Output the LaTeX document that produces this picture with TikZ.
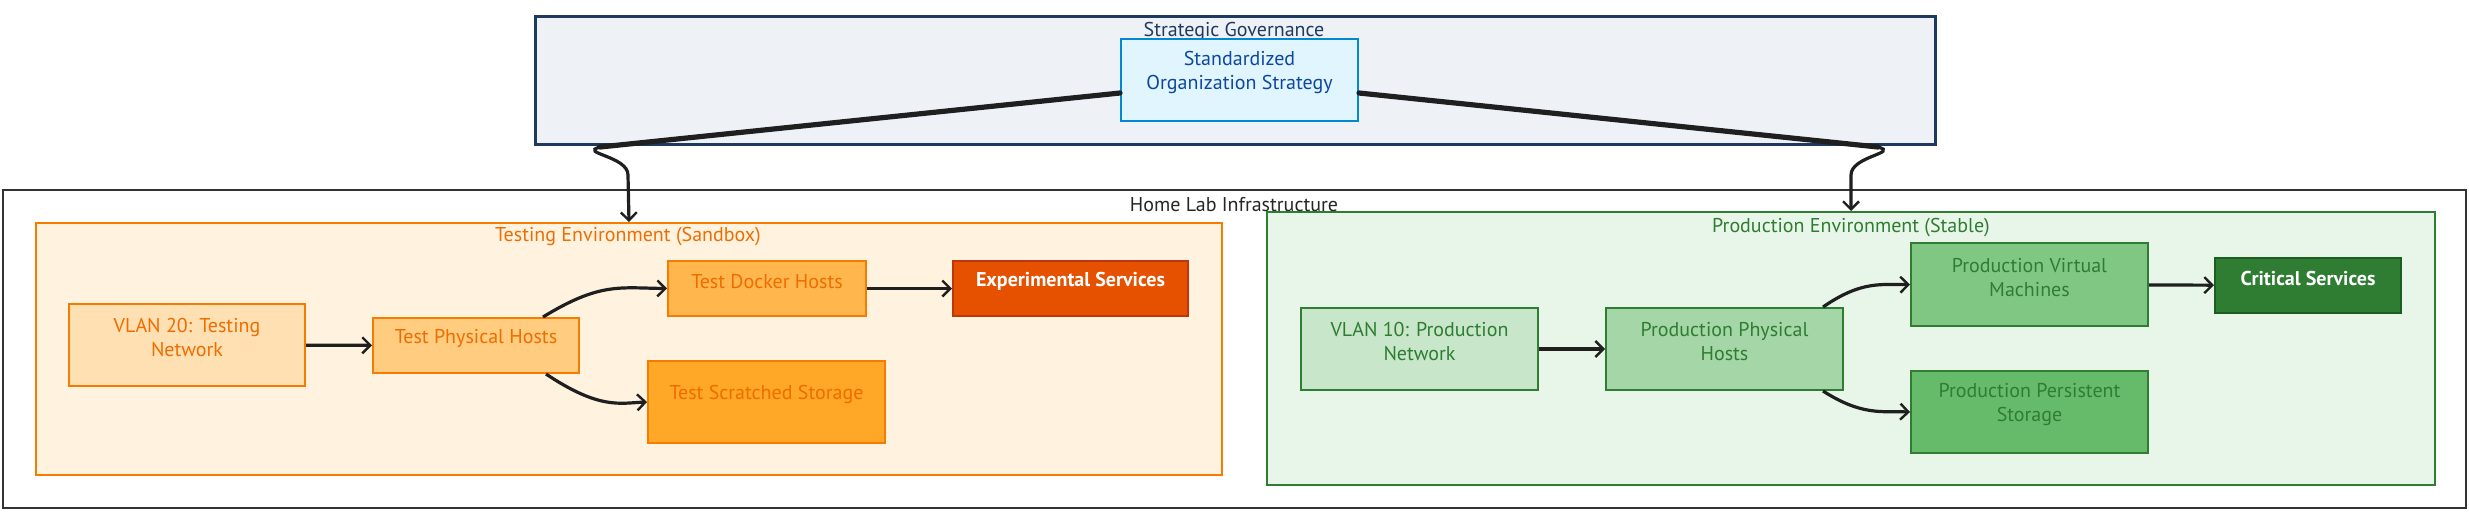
\documentclass[tikz,border=0pt]{standalone}
\usepackage{fontspec}
\setmainfont{PT Sans}
\usetikzlibrary{arrows.meta,fit}
\definecolor{navy}{HTML}{1E3A5F}
\definecolor{govfill}{HTML}{EEF2F7}
\definecolor{stdfill}{HTML}{E1F5FE}
\definecolor{stddraw}{HTML}{0288D1}
\definecolor{stdtext}{HTML}{0D47A1}
\definecolor{orgdraw}{HTML}{F57C00}
\definecolor{orgtext}{HTML}{EF6C00}
\definecolor{envOfill}{HTML}{FFF3E0}
\definecolor{o1}{HTML}{FFE0B2}
\definecolor{o2}{HTML}{FFCC80}
\definecolor{o3}{HTML}{FFB74D}
\definecolor{o4}{HTML}{FFA726}
\definecolor{o5}{HTML}{E65100}
\definecolor{o5d}{HTML}{BF360C}
\definecolor{grndraw}{HTML}{2E7D32}
\definecolor{envGfill}{HTML}{E8F5E9}
\definecolor{g1}{HTML}{C8E6C9}
\definecolor{g2}{HTML}{A5D6A7}
\definecolor{g3}{HTML}{81C784}
\definecolor{g4}{HTML}{66BB6A}
\definecolor{g5}{HTML}{2E7D32}
\definecolor{g5d}{HTML}{1B5E20}
\begin{document}
\begin{tikzpicture}[x=0.5pt,y=-0.5pt,
  box/.style={draw, line width=1pt, inner sep=0pt, align=center, font=\fontsize{10}{12}\selectfont},
  lbl/.style={inner sep=1pt, font=\fontsize{10}{12}\selectfont},
  obox/.style={box, draw=orgdraw, text=orgtext},
  gbox/.style={box, draw=grndraw, text=grndraw},
  conn/.style={draw=black!88, line width=1.6pt, -{Straight Barb[length=4pt,width=8pt,line width=1.2pt]}},
  heavy/.style={draw=black!88, line width=2.6pt, line cap=round}
]
\useasboundingbox (0,0) rectangle (2469,511);
% outer containers
\node[box, draw=black!80, fill=white, fit={(3,190) (2466,508)}] (home) {};
\node[lbl, text=black!85] (homelbl) at (1234,205) {Home Lab Infrastructure};
\node[box, draw=navy, line width=1.5pt, fill=govfill, fit={(535,16) (1935,144)}] (gov) {};
\node[lbl, text=navy] (govlbl) at (1234,31) {Strategic Governance};
\node[box, draw=stddraw, fill=stdfill, text=stdtext, fit={(1121,39) (1358,121)}] (std) {Standardized\\Organization Strategy};

% testing environment
\node[box, draw=orgdraw, fill=envOfill, fit={(36,223) (1222,475)}] (tenv) {};
\node[lbl, text=orgtext] (tenvlbl) at (628,237) {Testing Environment (Sandbox)};
\node[obox, fill=o1, fit={(69,304) (305,386)}] (vlan20) {VLAN 20: Testing\\Network};
\node[obox, fill=o2, fit={(373,318) (579,373)}] (tphys) {Test Physical Hosts};
\node[obox, fill=o3, fit={(668,261) (866,316)}] (tdock) {Test Docker Hosts};
\node[obox, fill=o4, fit={(648,361) (885,443)}] (tstor) {Test Scratched Storage};
\node[box, draw=o5d, fill=o5, text=white, font=\fontsize{10}{12}\selectfont\bfseries, fit={(953,261) (1188,316)}] (exp) {Experimental Services};

% production environment
\node[box, draw=grndraw, fill=envGfill, fit={(1267,212) (2435,485)}] (penv) {};
\node[lbl, text=grndraw] (penvlbl) at (1851,228) {Production Environment (Stable)};
\node[gbox, fill=g1, fit={(1301,308) (1538,390)}] (vlan10) {VLAN 10: Production\\Network};
\node[gbox, fill=g2, fit={(1606,308) (1843,390)}] (pphys) {Production Physical\\Hosts};
\node[gbox, fill=g3, fit={(1911,243) (2148,326)}] (pvm) {Production Virtual\\Machines};
\node[gbox, fill=g4, fit={(1911,371) (2148,453)}] (pstor) {Production Persistent\\Storage};
\node[box, draw=g5d, fill=g5, text=white, font=\fontsize{10}{12}\selectfont\bfseries, fit={(2215,258) (2401,313)}] (crit) {Critical Services};

% connectors inside testing
\draw[conn] (vlan20) -- (tphys);
\draw[conn] ([xshift=-18.5pt]tphys.north east) .. controls (600,282) and (620,288) .. (tdock.west);
\draw[conn] ([xshift=-17pt]tphys.south east) .. controls (600,410) and (620,403) .. (tstor.west);
\draw[conn] (tdock) -- (exp);

% connectors inside production
\draw[conn] (vlan10) -- (pphys);
\draw[conn] ([xshift=-10.5pt]pphys.north east) .. controls (1862,280) and (1882,285) .. (pvm.west);
\draw[conn] ([xshift=-10.5pt]pphys.south east) .. controls (1862,416) and (1882,411) .. (pstor.west);
\draw[conn] (pvm) -- (crit);

% top connectors
\coordinate (gl) at (600,147);
\coordinate (gr) at (1878,147);
\draw[heavy] ([yshift=-6.5pt]std.west) -- (gl);
\draw[conn] (gl) .. controls (578,153) and (628,156) .. (628,175) -- (tenv.north);
\draw[heavy] ([yshift=-6.5pt]std.east) -- (gr);
\draw[conn] (gr) .. controls (1900,153) and (1851,156) .. (1851,175) -- (penv.north);
\end{tikzpicture}
\end{document}
